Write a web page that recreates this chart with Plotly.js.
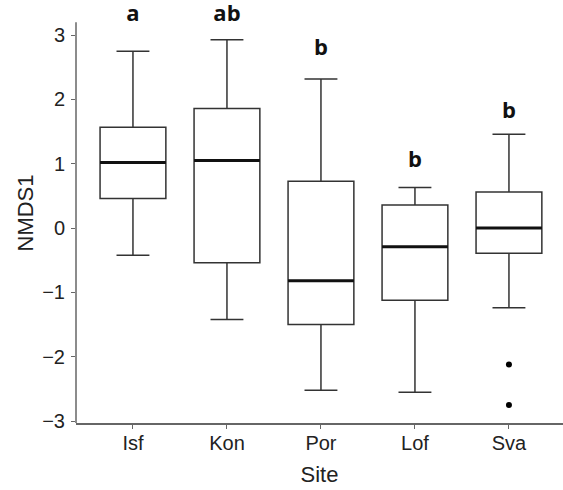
<!DOCTYPE html>
<html>
<head>
<meta charset="utf-8">
<script src="https://cdn.plot.ly/plotly-3.0.1.min.js"></script>
<style>html,body{margin:0;padding:0;background:#fff;}#chart{width:563px;height:490px;}</style>
</head>
<body>
<div id="chart"></div>
<script>
const sites = ["Isf", "Kon", "Por", "Lof", "Sva"];
const lowerWhisker = [-0.42, -1.42, -2.52, -2.55, -1.24];
const q1 = [0.46, -0.54, -1.50, -1.12, -0.39];
const median = [1.02, 1.05, -0.82, -0.29, 0.00];
const q3 = [1.57, 1.86, 0.73, 0.36, 0.56];
const upperWhisker = [2.75, 2.93, 2.32, 0.63, 1.46];
const outlierSites = ["Sva", "Sva"];
const outlierValues = [-2.12, -2.75];
const letters = ["a", "ab", "b", "b", "b"];
const letterY = [3.31, 3.31, 2.77, 1.03, 1.79];
const yTickVals = [-3, -2, -1, 0, 1, 2, 3];
const yTickText = ["\u22123", "\u22122", "\u22121", "0", "1", "2", "3"];

const yMin = -3.03, yAxisTop = 3.2, yRangeTop = 3.5;

const boxTrace = {
  type: "box",
  x: sites,
  q1: q1,
  median: median,
  q3: q3,
  lowerfence: lowerWhisker,
  upperfence: upperWhisker,
  width: 0.7,
  fillcolor: "#ffffff",
  line: {color: "#333333", width: 1.5},
  hoverinfo: "skip",
  showlegend: false
};
const medianTrace = {
  type: "box",
  x: sites,
  q1: median,
  median: median,
  q3: median,
  lowerfence: median,
  upperfence: median,
  width: 0.7,
  fillcolor: "rgba(0,0,0,0)",
  line: {color: "#111111", width: 3},
  hoverinfo: "skip",
  showlegend: false
};
const outlierTrace = {
  type: "scatter",
  mode: "markers",
  x: outlierSites,
  y: outlierValues,
  marker: {color: "#000000", size: 6},
  hoverinfo: "skip",
  showlegend: false
};
const letterTrace = {
  type: "scatter",
  mode: "text",
  x: sites,
  y: letterY,
  text: letters,
  textposition: "middle center",
  textfont: {family: "Open Sans", size: 22, color: "#111111", weight: "bold"},
  cliponaxis: false,
  hoverinfo: "skip",
  showlegend: false
};

const fontFam = "Liberation Sans, Arial, sans-serif";
const axisFont = {family: fontFam, size: 20, color: "#222222"};
const layout = {
  width: 563,
  height: 490,
  margin: {l: 76, r: 0, t: 3, b: 67},
  paper_bgcolor: "#ffffff",
  plot_bgcolor: "#ffffff",
  showlegend: false,
  xaxis: {
    type: "category",
    categoryarray: sites,
    range: [-0.606, 4.575],
    showline: true,
    linecolor: "#666666",
    linewidth: 1.5,
    ticks: "outside",
    ticklen: 4,
    tickcolor: "#666666",
    ticklabelstandoff: -3,
    showgrid: false,
    zeroline: false,
    tickfont: axisFont,
    title: {text: "Site", font: {family: fontFam, size: 22, color: "#222222"}, standoff: 14}
  },
  yaxis: {
    range: [yMin, yRangeTop],
    tickvals: yTickVals,
    ticktext: yTickText,
    showline: false,
    ticks: "outside",
    ticklen: 4,
    tickcolor: "#666666",
    ticklabelstandoff: 2,
    showgrid: false,
    zeroline: false,
    tickfont: axisFont,
    title: {text: "NMDS1", font: {family: fontFam, size: 22, color: "#222222"}, standoff: 2}
  },
  shapes: [{
    type: "line",
    xref: "paper", yref: "y",
    x0: 0, x1: 0, y0: yMin, y1: yAxisTop,
    line: {color: "#666666", width: 1.5},
    layer: "above"
  }]
};

Plotly.newPlot("chart", [boxTrace, medianTrace, outlierTrace, letterTrace], layout, {displayModeBar: false, staticPlot: true});
</script>
</body>
</html>
